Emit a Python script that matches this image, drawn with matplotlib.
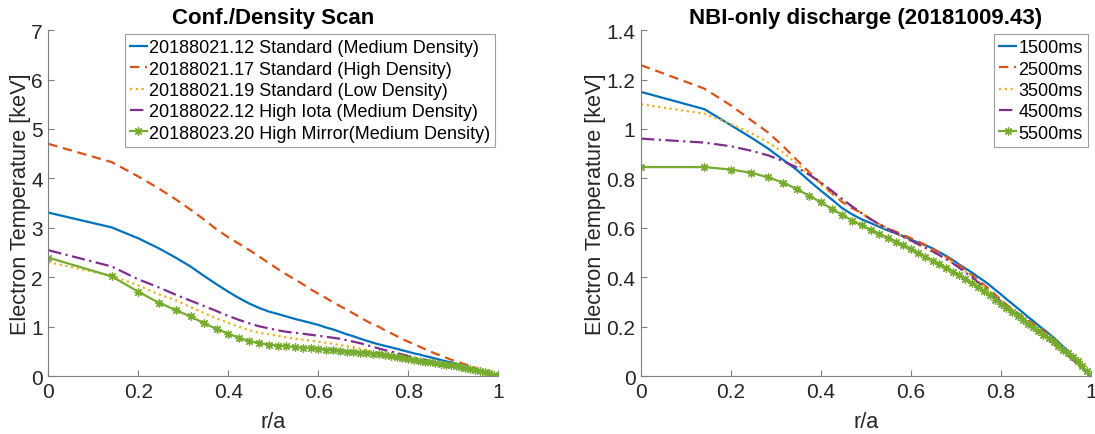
import matplotlib
matplotlib.use("Agg")
import matplotlib.pyplot as plt
from matplotlib.ticker import FuncFormatter

# Normalised minor radius grid shared by all profiles
rho = [0.000, 0.141, 0.200, 0.245, 0.283, 0.316, 0.346, 0.374, 0.400, 0.424,
       0.447, 0.469, 0.490, 0.510, 0.529, 0.548, 0.566, 0.583, 0.600, 0.616,
       0.632, 0.648, 0.663, 0.678, 0.693, 0.707, 0.721, 0.735, 0.748, 0.762,
       0.775, 0.787, 0.800, 0.812, 0.825, 0.837, 0.849, 0.860, 0.872, 0.883,
       0.894, 0.906, 0.917, 0.927, 0.938, 0.949, 0.959, 0.970, 0.980, 0.990,
       1.000]

# --- Configuration / density scan (keV) ---
scan_labels = ["20188021.12 Standard (Medium Density)",
               "20188021.17 Standard (High Density)",
               "20188021.19 Standard (Low Density)",
               "20188022.12 High Iota (Medium Density)",
               "20188023.20 High Mirror(Medium Density)"]

te_20188021_12 = [3.31, 3.01, 2.79, 2.59, 2.40, 2.22, 2.03, 1.86, 1.71, 1.58,
                  1.47, 1.38, 1.31, 1.26, 1.21, 1.16, 1.12, 1.08, 1.04, 0.99,
                  0.95, 0.90, 0.85, 0.81, 0.76, 0.72, 0.68, 0.645, 0.615, 0.585,
                  0.555, 0.525, 0.495, 0.465, 0.44, 0.41, 0.385, 0.36, 0.33, 0.305,
                  0.28, 0.25, 0.22, 0.19, 0.165, 0.135, 0.11, 0.08, 0.055, 0.025,
                  0.00]
te_20188021_17 = [4.70, 4.33, 4.04, 3.80, 3.58, 3.37, 3.17, 2.97, 2.81, 2.68,
                  2.55, 2.42, 2.29, 2.17, 2.06, 1.96, 1.86, 1.76, 1.67, 1.59,
                  1.50, 1.42, 1.35, 1.27, 1.19, 1.12, 1.05, 1.00, 0.93, 0.87,
                  0.81, 0.75, 0.70, 0.65, 0.60, 0.55, 0.50, 0.46, 0.42, 0.38,
                  0.34, 0.30, 0.27, 0.24, 0.20, 0.16, 0.12, 0.08, 0.05, 0.02,
                  0.00]
te_20188021_19 = [2.31, 2.03, 1.84, 1.66, 1.54, 1.40, 1.28, 1.17, 1.08, 1.00,
                  0.93, 0.88, 0.85, 0.82, 0.79, 0.76, 0.74, 0.72, 0.70, 0.68,
                  0.66, 0.63, 0.61, 0.59, 0.56, 0.53, 0.50, 0.48, 0.45, 0.43,
                  0.41, 0.39, 0.37, 0.35, 0.32, 0.30, 0.28, 0.26, 0.24, 0.21,
                  0.19, 0.17, 0.15, 0.13, 0.11, 0.09, 0.07, 0.05, 0.03, 0.01,
                  0.00]
te_20188022_12 = [2.55, 2.22, 1.96, 1.80, 1.65, 1.53, 1.42, 1.32, 1.22, 1.14,
                  1.07, 1.01, 0.97, 0.93, 0.90, 0.88, 0.86, 0.84, 0.82, 0.80,
                  0.78, 0.76, 0.73, 0.70, 0.67, 0.63, 0.60, 0.56, 0.53, 0.50,
                  0.47, 0.44, 0.41, 0.38, 0.35, 0.33, 0.31, 0.29, 0.27, 0.25,
                  0.23, 0.21, 0.18, 0.16, 0.13, 0.11, 0.09, 0.06, 0.04, 0.02,
                  0.00]
te_20188023_20 = [2.40, 2.02, 1.71, 1.49, 1.34, 1.21, 1.07, 0.96, 0.86, 0.78,
                  0.71, 0.67, 0.64, 0.62, 0.61, 0.59, 0.58, 0.57, 0.56, 0.54,
                  0.53, 0.52, 0.50, 0.49, 0.48, 0.47, 0.46, 0.45, 0.44, 0.42,
                  0.40, 0.38, 0.36, 0.33, 0.31, 0.29, 0.28, 0.26, 0.25, 0.23,
                  0.22, 0.20, 0.18, 0.16, 0.15, 0.13, 0.11, 0.09, 0.06, 0.03,
                  0.00]

# --- NBI-only discharge 20181009.43, time slices (keV) ---
time_labels = ["1500ms", "2500ms", "3500ms", "4500ms", "5500ms"]

te_1500 = [1.150, 1.080, 1.015, 0.965, 0.920, 0.875, 0.835, 0.790, 0.750, 0.715,
           0.680, 0.655, 0.635, 0.620, 0.605, 0.590, 0.578, 0.566, 0.553, 0.540,
           0.530, 0.517, 0.502, 0.487, 0.470, 0.452, 0.436, 0.420, 0.403, 0.386,
           0.368, 0.350, 0.331, 0.312, 0.293, 0.275, 0.257, 0.240, 0.223, 0.206,
           0.190, 0.173, 0.156, 0.139, 0.120, 0.100, 0.080, 0.057, 0.037, 0.018,
           0.000]
te_2500 = [1.258, 1.163, 1.095, 1.035, 0.985, 0.930, 0.875, 0.825, 0.780, 0.740,
           0.705, 0.680, 0.660, 0.635, 0.615, 0.598, 0.585, 0.572, 0.558, 0.545,
           0.531, 0.516, 0.500, 0.484, 0.467, 0.449, 0.430, 0.410, 0.390, 0.370,
           0.350, 0.330, 0.310, 0.290, 0.272, 0.256, 0.241, 0.227, 0.213, 0.199,
           0.184, 0.168, 0.150, 0.132, 0.113, 0.094, 0.074, 0.053, 0.034, 0.017,
           0.000]
te_3500 = [1.100, 1.062, 1.020, 0.983, 0.945, 0.905, 0.860, 0.818, 0.775, 0.742,
           0.712, 0.685, 0.660, 0.635, 0.613, 0.595, 0.578, 0.562, 0.547, 0.532,
           0.518, 0.503, 0.489, 0.474, 0.458, 0.441, 0.423, 0.404, 0.385, 0.365,
           0.345, 0.325, 0.305, 0.286, 0.267, 0.249, 0.232, 0.216, 0.200, 0.184,
           0.168, 0.152, 0.136, 0.120, 0.103, 0.086, 0.068, 0.050, 0.032, 0.016,
           0.000]
te_4500 = [0.961, 0.945, 0.930, 0.912, 0.893, 0.870, 0.845, 0.815, 0.783, 0.750,
           0.717, 0.687, 0.660, 0.636, 0.615, 0.597, 0.580, 0.564, 0.549, 0.534,
           0.520, 0.505, 0.490, 0.474, 0.457, 0.439, 0.420, 0.401, 0.381, 0.361,
           0.341, 0.321, 0.301, 0.282, 0.263, 0.245, 0.228, 0.212, 0.196, 0.180,
           0.165, 0.149, 0.133, 0.117, 0.101, 0.084, 0.067, 0.050, 0.032, 0.016,
           0.000]
te_5500 = [0.846, 0.846, 0.836, 0.823, 0.804, 0.783, 0.757, 0.730, 0.703, 0.677,
           0.653, 0.630, 0.610, 0.592, 0.576, 0.560, 0.545, 0.529, 0.513, 0.499,
           0.484, 0.468, 0.453, 0.438, 0.423, 0.408, 0.393, 0.377, 0.360, 0.343,
           0.327, 0.310, 0.293, 0.277, 0.261, 0.245, 0.229, 0.213, 0.198, 0.183,
           0.168, 0.153, 0.138, 0.123, 0.108, 0.093, 0.077, 0.060, 0.042, 0.022,
           0.000]

x_ticks = [0, 0.2, 0.4, 0.6, 0.8, 1]
left_yticks = [0, 1, 2, 3, 4, 5, 6, 7]
right_yticks = [0, 0.2, 0.4, 0.6, 0.8, 1, 1.2, 1.4]

# MATLAB-like line colours and styles
colors = ["#0072BD", "#D95319", "#EDB120", "#7E2F8E", "#77AC30"]
styles = [dict(ls="-"),
          dict(ls=(0, (4.2, 2.6))),
          dict(ls=(0, (1, 1.6))),
          dict(ls=(0, (6, 2, 1, 2))),
          dict(ls="-", marker=(8, 2, 0), ms=6.0, mew=0.9)]

plt.rcParams["font.family"] = ["Liberation Sans", "DejaVu Sans"]
axis_gray = "#262626"
spine_gray = "#7f7f7f"

fig = plt.figure(figsize=(10.95, 4.35), dpi=100)
ax1 = fig.add_axes([0.0441, 0.1326, 0.411, 0.796])
ax2 = fig.add_axes([0.5854, 0.1326, 0.411, 0.796])

fmt = FuncFormatter(lambda v, p: "%g" % v)


def style_axes(ax, yticks, ymax, title):
    ax.set_xlim(0, 1)
    ax.set_ylim(0, ymax)
    ax.set_xticks(x_ticks)
    ax.set_yticks(yticks)
    ax.xaxis.set_major_formatter(fmt)
    ax.yaxis.set_major_formatter(fmt)
    for s in ("top", "right"):
        ax.spines[s].set_visible(False)
    for s in ("left", "bottom"):
        ax.spines[s].set_color(spine_gray)
        ax.spines[s].set_linewidth(0.8)
    ax.tick_params(direction="in", length=4, width=0.8, color=spine_gray,
                   labelsize=15, labelcolor=axis_gray, pad=4)
    ax.set_xlabel("r/a", fontsize=15.6, color=axis_gray, labelpad=7)
    ax.set_ylabel("Electron Temperature [keV]", fontsize=15.6,
                  color=axis_gray, labelpad=0)
    ax.set_title(title, fontsize=16, fontweight="bold", pad=5)


scan_series = [te_20188021_12, te_20188021_17, te_20188021_19,
               te_20188022_12, te_20188023_20]
for vals, lab, c, st in zip(scan_series, scan_labels, colors, styles):
    ax1.plot(rho, vals, color=c, lw=1.6, label=lab, **st)
style_axes(ax1, left_yticks, 7, "Conf./Density Scan")

time_series = [te_1500, te_2500, te_3500, te_4500, te_5500]
for vals, lab, c, st in zip(time_series, time_labels, colors, styles):
    ax2.plot(rho, vals, color=c, lw=1.6, label=lab, **st)
style_axes(ax2, right_yticks, 1.4, "NBI-only discharge (20181009.43)")

for ax in (ax1, ax2):
    leg = ax.legend(loc="upper right", bbox_to_anchor=(0.993, 0.988),
                    borderaxespad=0, fontsize=13.0, handlelength=0.95,
                    handletextpad=0.12, labelspacing=0.24, borderpad=0.28,
                    fancybox=False, framealpha=1, edgecolor="#a0a0a0")
    leg.get_frame().set_linewidth(0.8)
    for t in leg.get_texts():
        t.set_color("black")

fig.savefig("out.png", dpi=100)
